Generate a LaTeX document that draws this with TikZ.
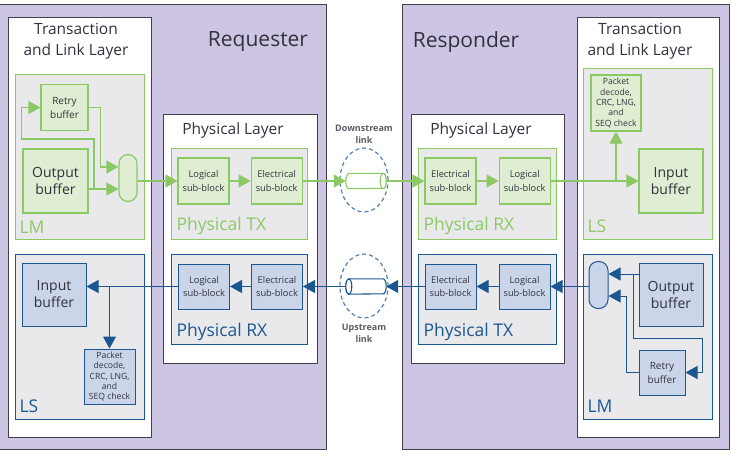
\documentclass[tikz,border=0pt]{standalone}
\usepackage{fontspec}
\setmainfont{Open Sans}
\usetikzlibrary{shapes.geometric,arrows.meta,positioning}

\definecolor{lilac}{RGB}{206,197,228}
\definecolor{frame}{RGB}{65,65,75}
\definecolor{panel}{RGB}{233,233,235}
\definecolor{lmgreen}{RGB}{140,201,100}
\definecolor{lmgreenfill}{RGB}{223,238,210}
\definecolor{lsblue}{RGB}{28,86,145}
\definecolor{lsbluefill}{RGB}{203,213,233}
\definecolor{label}{RGB}{50,50,62}

\begin{document}
\begin{tikzpicture}[x=1pt, y=-1pt,
  side/.style={draw=frame, line width=1.3pt, fill=lilac, anchor=north west},
  layer/.style={draw=frame, line width=1.3pt, fill=white, anchor=north west},
  ggroup/.style={draw=lmgreen, line width=1.2pt, fill=panel, anchor=north west},
  bgroup/.style={draw=lsblue, line width=1pt, fill=panel, anchor=north west},
  gblock/.style={draw=lmgreen, line width=1.2pt, fill=lmgreenfill, text=label, align=center, inner sep=0pt},
  bblock/.style={draw=lsblue, line width=1pt, fill=lsbluefill, text=label, align=center, inner sep=0pt},
  subblock/.style={minimum width=51, minimum height=46, font=\fontsize{9.3}{13.5}\selectfont},
  buffer/.style={minimum width=64, minimum height=64, font=\fontsize{14}{17}\selectfont},
  smallbuf/.style={minimum width=47, minimum height=46, font=\fontsize{10}{14}\selectfont},
  check/.style={minimum width=51, minimum height=55, font=\fontsize{8.6}{10.4}\selectfont},
  mux/.style={minimum width=18, minimum height=47, rounded corners=9pt, inner sep=0pt},
  link/.style={ellipse, draw=lsblue!75, dashed, dash pattern=on 4pt off 3pt, line width=1.2pt, minimum width=48, minimum height=64},
  wire/.style={minimum width=40, minimum height=15, inner sep=0pt},
  tube/.style={line width=1.1pt, fill=white},
  garrow/.style={draw=lmgreen, line width=1.2pt, -{Triangle[length=12pt, width=13pt]}},
  barrow/.style={draw=lsblue, line width=1pt, -{Triangle[length=12pt, width=13pt]}},
  title/.style={text=label, font=\fontsize{21}{25}\selectfont},
  heading/.style={text=label, align=center, font=\fontsize{15.5}{21}\selectfont},
  gtag/.style={text=lmgreen, anchor=west, font=\fontsize{17.5}{20}\selectfont},
  btag/.style={text=lsblue, anchor=west, font=\fontsize{17.5}{20}\selectfont},
  linktag/.style={text=label!80, align=center, font=\bfseries\fontsize{9}{12}\selectfont}
]
\useasboundingbox (0,0) rectangle (731,456);

% requester side
\node (req) at (-3,4) [side, minimum width=329, minimum height=445] {};
\node (req_title) at (258,42) [title] {Requester};
\node (req_tll) at (8,17) [layer, minimum width=143, minimum height=420] {};
\node (req_tll_title) at (76,41) [heading] {Transaction\\and Link Layer};
\node (req_lm) at (15,74) [ggroup, minimum width=129, minimum height=165] {};
\node (req_ls) at (15,254) [bgroup, minimum width=129, minimum height=165] {};
\node (req_phy) at (163,114) [layer, minimum width=154, minimum height=249] {};
\node (req_phy_title) at (233,130) [heading] {Physical Layer};
\node (req_ptx) at (171,148) [ggroup, minimum width=136, minimum height=91] {};
\node (req_prx) at (171,254) [bgroup, minimum width=136, minimum height=90] {};

\node (req_retry) at (64.5,107.5) [gblock, smallbuf] {Retry\\buffer};
\node (req_out) at (55.5,181) [gblock, buffer, minimum width=65] {Output\\buffer};
\node (req_mux) at (128,178) [gblock, mux] {};
\node (req_tx_log) at (203.5,181) [gblock, subblock] {Logical\\sub-block};
\node (req_tx_ele) [gblock, subblock, right=21pt of req_tx_log] {Electrical\\sub-block};
\node (req_rx_log) at (204,286.5) [bblock, subblock, minimum height=45] {Logical\\sub-block};
\node (req_rx_ele) [bblock, subblock, minimum height=45, right=21pt of req_rx_log] {Electrical\\sub-block};
\node (req_in) at (54,294.5) [bblock, buffer, minimum height=63] {Input\\buffer};
\node (req_chk) at (109.5,376.5) [bblock, check] {Packet\\decode,\\CRC, LNG,\\and\\SEQ check};

\node (req_lm_tag) at (16,227) [gtag] {LM};
\node (req_ls_tag) at (16,406) [btag] {LS};
\node (req_ptx_tag) at (173,226) [gtag] {Physical TX};
\node (req_prx_tag) at (173,332) [btag] {Physical RX};

% responder side
\node (rsp) at (402,4) [side, minimum width=327, minimum height=445] {};
\node (rsp_title) at (466,42) [title] {Responder};
\node (rsp_tll) at (577,17) [layer, minimum width=142, minimum height=420] {};
\node (rsp_tll_title) at (640,41) [heading] {Transaction\\and Link Layer};
\node (rsp_ls) at (583,68) [ggroup, minimum width=129, minimum height=171] {};
\node (rsp_lm) at (583,254) [bgroup, minimum width=129, minimum height=165] {};
\node (rsp_phy) at (411,114) [layer, minimum width=153, minimum height=249] {};
\node (rsp_phy_title) at (481,130) [heading] {Physical Layer};
\node (rsp_prx) at (418,148) [ggroup, minimum width=138, minimum height=91] {};
\node (rsp_ptx) at (418,254) [bgroup, minimum width=138, minimum height=90] {};

\node (rsp_rx_ele) at (450.5,181) [gblock, subblock] {Electrical\\sub-block};
\node (rsp_rx_log) [gblock, subblock, right=22pt of rsp_rx_ele] {Logical\\sub-block};
\node (rsp_tx_ele) at (450.5,286.5) [bblock, subblock, minimum height=45] {Electrical\\sub-block};
\node (rsp_tx_log) [bblock, subblock, minimum height=45, right=22pt of rsp_tx_ele] {Logical\\sub-block};
\node (rsp_chk) at (616,103) [gblock, check, minimum width=50, minimum height=56] {Packet\\decode,\\CRC, LNG,\\and\\SEQ check};
\node (rsp_in) at (671,181) [gblock, buffer] {Input\\buffer};
\node (rsp_mux) at (598.5,285) [bblock, mux, minimum width=19] {};
\node (rsp_out) at (671,294.5) [bblock, buffer, minimum height=63] {Output\\buffer};
\node (rsp_retry) at (662,372.5) [bblock, smallbuf, minimum width=46, minimum height=45] {Retry\\buffer};

\node (rsp_prx_tag) at (420,226) [gtag] {Physical RX};
\node (rsp_ptx_tag) at (420,332) [btag] {Physical TX};
\node (rsp_ls_tag) at (584,226) [gtag] {LS};
\node (rsp_lm_tag) at (584,406) [btag] {LM};

% the two links, each a short tube inside a dashed ring
\node (dn_link) at (364,180) [link] {};
\node (dn_wire) at (366,181) [wire] {};
\draw [tube, draw=lmgreen] ([xshift=3pt]dn_wire.north west) -- ([xshift=-3pt]dn_wire.north east)
  arc (90:-90:3pt and 7.5pt) -- ([xshift=3pt]dn_wire.south west) arc (270:90:3pt and 7.5pt) -- cycle;
\draw [tube, draw=lmgreen] ([xshift=-3pt]dn_wire.east) ellipse (3pt and 7.5pt);
\node (dn_tag) at (364,134) [linktag] {Downstream\\link};

\node (up_link) at (364,286) [link] {};
\node (up_wire) at (366,286.5) [wire] {};
\draw [tube, draw=lsblue] ([xshift=3pt]up_wire.north west) -- ([xshift=-3pt]up_wire.north east)
  arc (90:-90:3pt and 7.5pt) -- ([xshift=3pt]up_wire.south west) arc (270:90:3pt and 7.5pt) -- cycle;
\draw [tube, draw=lsblue] ([xshift=3pt]up_wire.west) ellipse (3pt and 7.5pt);
\node (up_tag) at (364,333) [linktag] {Upstream\\link};

% downstream traffic
\coordinate (req_mux_in1) at ([yshift=11pt]req_mux.west);
\coordinate (req_mux_in2) at ([yshift=-11pt]req_mux.west);
\coordinate (req_fb) at (94,189);
\draw [garrow] (req_retry.east) -- ++(12,0) |- (req_mux_in1);
\draw [garrow] (req_mux_in2 -| req_out.east) -- (req_mux_in2);
\draw [garrow] (req_fb) -- ++(0,-50) -| ([xshift=-19pt]req_retry.west) -- (req_retry.west);
\draw [garrow] (req_mux.east |- req_tx_log) -- (req_tx_log);
\draw [garrow] (req_tx_log) -- (req_tx_ele);
\draw [garrow] (req_tx_ele) -- (dn_wire);
\draw [garrow] (dn_wire) -- (rsp_rx_ele);
\draw [garrow] (rsp_rx_ele) -- (rsp_rx_log);
\draw [garrow] (rsp_rx_log) -- (rsp_in);
\draw [garrow] (rsp_rx_log.east -| rsp_chk.south) -- (rsp_chk);

% upstream traffic
\coordinate (rsp_mux_in1) at ([yshift=11pt]rsp_mux.east);
\coordinate (rsp_mux_in2) at ([yshift=-11pt]rsp_mux.east);
\coordinate (rsp_fb) at (633,274);
\draw [barrow] (rsp_mux_in1 -| rsp_out.west) -- (rsp_mux_in1);
\draw [barrow] (rsp_fb) -- ++(0,64) -| ([xshift=17pt]rsp_retry.east) -- (rsp_retry.east);
\draw [barrow] (rsp_retry.west) -- ++(-12,0) |- (rsp_mux_in2);
\draw [barrow] (rsp_mux.west |- rsp_tx_log) -- (rsp_tx_log);
\draw [barrow] (rsp_tx_log) -- (rsp_tx_ele);
\draw [barrow] (rsp_tx_ele) -- (up_wire);
\draw [barrow] (up_wire) -- (req_rx_ele);
\draw [barrow] (req_rx_ele) -- (req_rx_log);
\draw [barrow] (req_rx_log.west) -- (req_rx_log.west -| req_in.east);
\draw [barrow] (req_rx_log.west -| req_chk.north) -- (req_chk);

\end{tikzpicture}
\end{document}
